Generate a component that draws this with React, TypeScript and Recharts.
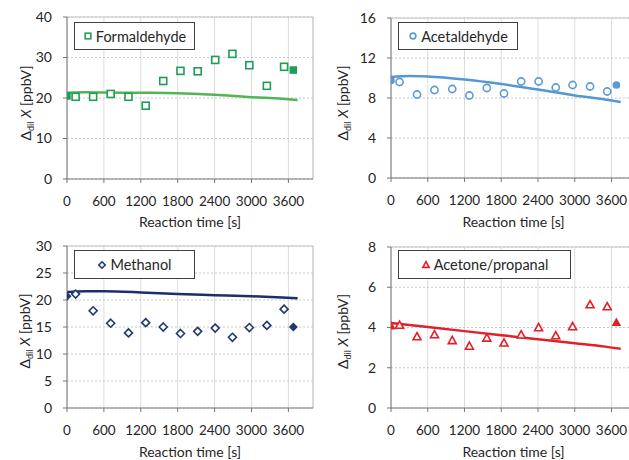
import React from 'react';
import {
  ComposedChart,
  Line,
  Scatter,
  XAxis,
  YAxis,
  CartesianGrid,
  ReferenceLine,
  Legend,
} from 'recharts';

// Sampling times of the PTR-MS measurements [s]
const times = [0, 140, 425, 710, 1000, 1280, 1565, 1845, 2125, 2410, 2690, 2965, 3250, 3530, 3680];

// Dilution-corrected mixing ratios [ppbV]
const formaldehyde = [20.5, 20.3, 20.3, 21.0, 20.3, 18.1, 24.2, 26.7, 26.6, 29.4, 30.9, 28.1, 23.0, 27.7, 26.9];
const acetaldehyde = [9.75, 9.6, 8.35, 8.8, 8.9, 8.25, 9.0, 8.45, 9.65, 9.65, 9.05, 9.3, 9.15, 8.65, 9.3];
const methanol = [20.7, 21.1, 18.0, 15.7, 13.9, 15.8, 15.0, 13.8, 14.2, 14.8, 13.1, 14.9, 15.3, 18.3, 15.0];
const acetonePropanal = [4.07, 4.11, 3.54, 3.64, 3.35, 3.07, 3.47, 3.23, 3.63, 3.99, 3.59, 4.04, 5.13, 5.03, 4.24];

// Model curves
const modelTimes = [0, 300, 600, 1200, 1800, 2400, 3000, 3500, 3750];
const formaldehydeModel = [21.3, 21.4, 21.35, 21.3, 21.2, 20.8, 20.2, 19.8, 19.5];
const acetaldehydeModel = [10.1, 10.2, 10.15, 9.85, 9.4, 8.85, 8.25, 7.85, 7.6];
const methanolModel = [21.5, 21.6, 21.6, 21.4, 21.1, 20.9, 20.7, 20.45, 20.3];
const acetonePropanalModel = [4.22, 4.12, 4.02, 3.82, 3.62, 3.42, 3.22, 3.05, 2.94];

// Axis ticks
const xTicks = [0, 600, 1200, 1800, 2400, 3000, 3600];
const formaldehydeTicks = [0, 10, 20, 30, 40];
const acetaldehydeTicks = [0, 4, 8, 12, 16];
const methanolTicks = [0, 5, 10, 15, 20, 25, 30];
const acetonePropanalTicks = [0, 2, 4, 6, 8];

const X_MAX = 4000;
const FONT = 'Lato, "Open Sans", sans-serif';

type Kind = 'square' | 'circle' | 'diamond' | 'triangle';

function Marker(props: any) {
  const { cx, cy, payload, kind, color } = props;
  if (cx == null || cy == null) return null;
  const filled = !!(payload && payload.filled);
  const scale = (props.scale ?? 1) * (filled ? 0.85 : 1);
  const fill = filled ? color : '#ffffff';
  const sw = 1.6;
  if (kind === 'square') {
    const s = 3.5 * scale;
    return <rect x={cx - s} y={cy - s} width={2 * s} height={2 * s} fill={fill} stroke={color} strokeWidth={sw} />;
  }
  if (kind === 'circle') {
    return <circle cx={cx} cy={cy} r={3.6 * scale} fill={fill} stroke={color} strokeWidth={sw} />;
  }
  if (kind === 'diamond') {
    const d = 4 * scale;
    return (
      <polygon
        points={`${cx},${cy - d} ${cx + d},${cy} ${cx},${cy + d} ${cx - d},${cy}`}
        fill={fill}
        stroke={color}
        strokeWidth={sw}
      />
    );
  }
  const t = 4 * scale;
  return (
    <polygon
      points={`${cx},${cy - t * 1.05} ${cx + t},${cy + t * 0.75} ${cx - t},${cy + t * 0.75}`}
      fill={fill}
      stroke={color}
      strokeWidth={sw}
    />
  );
}

function YLabel(props: any) {
  const { viewBox, dist, shiftY } = props;
  if (!viewBox) return null;
  const cx = viewBox.x + viewBox.width - dist;
  const cy = viewBox.y + viewBox.height / 2 + shiftY;
  return (
    <text
      transform={`translate(${cx},${cy}) rotate(-90)`}
      textAnchor="middle"
      dy="0.35em"
      fontSize={14}
      fill="#262626"
      fontFamily={FONT}
    >
      <tspan>Δ</tspan>
      <tspan fontSize={9} dy={3}>dil</tspan>
      <tspan dy={-3}> </tspan>
      <tspan fontStyle="italic">X</tspan>
      <tspan> [ppbV]</tspan>
    </text>
  );
}

function LegendBox(props: { name: string; color: string; kind: Kind }) {
  const { name, color, kind } = props;
  return (
    <div
      style={{
        boxSizing: 'border-box',
        width: '100%',
        height: '100%',
        border: '1px solid #404040',
        background: '#ffffff',
        display: 'flex',
        alignItems: 'center',
        justifyContent: 'center',
        gap: 3,
        fontSize: 14.5,
        fontFamily: FONT,
        color: '#262626',
      }}
    >
      <svg width={10} height={10} style={{ display: 'block' }}>
        <Marker cx={5} cy={5} kind={kind} color={color} scale={0.8} payload={{ filled: false }} />
      </svg>
      <span>{name}</span>
    </div>
  );
}

type PanelProps = {
  name: string;
  values: number[];
  model: number[];
  ticks: number[];
  color: string;
  lineColor: string;
  kind: Kind;
  left: number;
  top: number;
  width: number;
  marginTop: number;
  marginRight: number;
  yAxisWidth: number;
  xAxisHeight: number;
  labelDist: number;
  labelShift: number;
  legend: { left: number; top: number; width: number; height: number };
};

function Panel(p: PanelProps) {
  const points = times.map((t, i) => ({ t, v: p.values[i], filled: i === 0 || i === times.length - 1 }));
  const curve = modelTimes.map((t, i) => ({ t, v: p.model[i] }));
  const yMax = p.ticks[p.ticks.length - 1];
  const axisColor = '#767676';
  return (
    <div style={{ position: 'absolute', left: p.left, top: p.top }}>
      <ComposedChart
        width={p.width}
        height={230}
        margin={{ top: p.marginTop, right: p.marginRight, bottom: 0, left: 0 }}
      >
        <CartesianGrid vertical={true} horizontal={false} stroke="#dcdcdc" />
        <CartesianGrid vertical={false} horizontal={true} stroke="#c8c8c8" strokeDasharray="2 2" />
        <XAxis
          type="number"
          dataKey="t"
          domain={[0, X_MAX]}
          ticks={xTicks}
          interval={0}
          allowDataOverflow
          height={p.xAxisHeight}
          stroke={axisColor}
          tickSize={4}
          tickMargin={13}
          tick={{ fill: '#262626', fontSize: 13.5, fontFamily: FONT }}
          label={{
            value: 'Reaction time [s]',
            position: 'insideBottom',
            offset: 3,
            fill: '#262626',
            fontSize: 14,
            fontFamily: FONT,
          }}
        />
        <YAxis
          type="number"
          dataKey="v"
          domain={[0, yMax]}
          ticks={p.ticks}
          interval={0}
          allowDataOverflow
          width={p.yAxisWidth}
          stroke={axisColor}
          tickSize={4}
          tickMargin={11}
          tick={{ fill: '#262626', fontSize: 14, fontFamily: FONT }}
          label={(lp: any) => <YLabel viewBox={lp.viewBox} dist={p.labelDist} shiftY={p.labelShift} />}
        />
        <ReferenceLine y={yMax} stroke="#c4c4c4" />
        <ReferenceLine x={X_MAX} stroke="#c4c4c4" />
        <Line
          data={curve}
          dataKey="v"
          type="monotone"
          stroke={p.lineColor}
          strokeWidth={2.5}
          dot={false}
          activeDot={false}
          isAnimationActive={false}
          legendType="none"
        />
        <Scatter
          data={points}
          dataKey="v"
          isAnimationActive={false}
          shape={(sp: any) => <Marker cx={sp.cx} cy={sp.cy} payload={sp.payload} kind={p.kind} color={p.color} />}
        />
        <Legend
          layout="horizontal"
          verticalAlign="middle"
          align="center"
          wrapperStyle={{ ...p.legend, position: 'absolute' }}
          content={() => <LegendBox name={p.name} color={p.color} kind={p.kind} />}
        />
      </ComposedChart>
    </div>
  );
}

export default function App() {
  return (
    <div
      style={{
        position: 'absolute',
        left: 0,
        top: 0,
        width: 629,
        height: 460,
        overflow: 'hidden',
        background: '#ffffff',
        fontFamily: FONT,
      }}
    >
      <Panel
        name="Formaldehyde"
        values={formaldehyde}
        model={formaldehydeModel}
        ticks={formaldehydeTicks}
        color="#1f9d55"
        lineColor="#52b455"
        kind="square"
        left={0}
        top={0}
        width={320}
        marginTop={17}
        marginRight={7}
        yAxisWidth={67}
        xAxisHeight={51}
        labelDist={41}
        labelShift={5}
        legend={{ left: 74, top: 22, width: 121, height: 28 }}
      />
      <Panel
        name="Acetaldehyde"
        values={acetaldehyde}
        model={acetaldehydeModel}
        ticks={acetaldehydeTicks}
        color="#5b9bd5"
        lineColor="#5597d3"
        kind="circle"
        left={314}
        top={0}
        width={330}
        marginTop={18}
        marginRight={8}
        yAxisWidth={77}
        xAxisHeight={52}
        labelDist={48}
        labelShift={5}
        legend={{ left: 84, top: 22, width: 120, height: 28 }}
      />
      <Panel
        name="Methanol"
        values={methanol}
        model={methanolModel}
        ticks={methanolTicks}
        color="#1f3a6e"
        lineColor="#1c2f66"
        kind="diamond"
        left={0}
        top={230}
        width={320}
        marginTop={16}
        marginRight={7}
        yAxisWidth={67}
        xAxisHeight={52}
        labelDist={42}
        labelShift={4}
        legend={{ left: 74, top: 20, width: 121, height: 29 }}
      />
      <Panel
        name="Acetone/propanal"
        values={acetonePropanal}
        model={acetonePropanalModel}
        ticks={acetonePropanalTicks}
        color="#e61e28"
        lineColor="#e0202a"
        kind="triangle"
        left={314}
        top={230}
        width={330}
        marginTop={17}
        marginRight={8}
        yAxisWidth={77}
        xAxisHeight={52}
        labelDist={48}
        labelShift={4}
        legend={{ left: 84, top: 20, width: 173, height: 29 }}
      />
    </div>
  );
}
